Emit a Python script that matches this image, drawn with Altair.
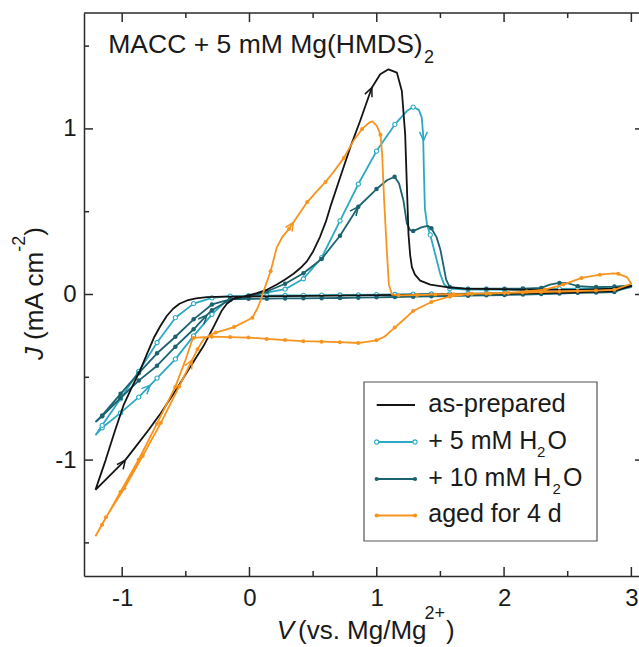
import altair as alt
import pandas as pd

FONT = "Liberation Sans"
TXT = "#1a1a1a"
AXC = "#2a2a2a"

# ---------------- data ----------------
SERIES = ["as-prepared", "+ 5 mM H2O", "+ 10 mM H2O", "aged for 4 d"]
COLORS = ["#141414", "#2ba9c4", "#1b6370", "#f7941e"]

# (V, J) - as prepared, no markers (sweep order)
BLACK = [
    (-1.21, -1.18), (-1.10, -1.095), (-0.976, -1.0), (-0.88, -0.905), (-0.79, -0.815),
    (-0.70, -0.72), (-0.58, -0.58), (-0.466, -0.438), (-0.36, -0.31), (-0.283, -0.197),
    (-0.22, -0.10), (-0.178, -0.056), (-0.126, -0.026), (-0.05, -0.013), (0.058, 0.008),
    (0.14, 0.03), (0.215, 0.06), (0.28, 0.09), (0.346, 0.125), (0.40, 0.16), (0.451, 0.20),
    (0.50, 0.26), (0.555, 0.35), (0.60, 0.44), (0.634, 0.526), (0.712, 0.707), (0.791, 0.887),
    (0.869, 1.048), (0.961, 1.249), (1.027, 1.33), (1.092, 1.36), (1.158, 1.34), (1.197, 1.229),
    (1.223, 0.968), (1.236, 0.667), (1.249, 0.366), (1.262, 0.24), (1.276, 0.165), (1.30, 0.12),
    (1.341, 0.084), (1.42, 0.06), (1.55, 0.045), (1.68, 0.036), (2.07, 0.03), (2.6, 0.028),
    (2.85, 0.036), (3.0, 0.05),
    (2.85, 0.02), (2.5, 0.012), (2.0, 0.005), (1.5, 0.0), (1.0, -0.004), (0.5, -0.008),
    (0.0, -0.012), (-0.2, -0.013), (-0.335, -0.016), (-0.42, -0.024), (-0.49, -0.036),
    (-0.55, -0.056), (-0.60, -0.086), (-0.65, -0.13), (-0.70, -0.19), (-0.75, -0.26),
    (-0.80, -0.35), (-0.86, -0.46), (-0.93, -0.57), (-0.99, -0.67), (-1.06, -0.83),
    (-1.13, -1.0), (-1.21, -1.18),
]

# (V, J, marker) - + 5 mM H2O, open circles
H2O5 = [
    (-1.21, -0.85, 0), (-1.157, -0.805, 1), (-1.013, -0.715, 1), (-0.870, -0.62, 1),
    (-0.726, -0.505, 1), (-0.582, -0.39, 1), (-0.439, -0.25, 1), (-0.295, -0.12, 1),
    (-0.20, -0.05, 0), (-0.151, -0.03, 1), (-0.007, -0.008, 1), (0.136, 0.012, 1),
    (0.280, 0.032, 1), (0.424, 0.095, 1), (0.567, 0.223, 1), (0.711, 0.445, 1),
    (0.855, 0.667, 1), (0.998, 0.866, 1), (1.142, 1.027, 1), (1.236, 1.108, 0),
    (1.286, 1.132, 1), (1.33, 1.115, 0), (1.353, 1.07, 0), (1.364, 0.97, 0), (1.370, 0.75, 0),
    (1.378, 0.52, 0), (1.395, 0.42, 0), (1.42, 0.36, 1), (1.46, 0.24, 0), (1.50, 0.12, 0),
    (1.53, 0.06, 0), (1.573, 0.035, 1), (1.717, 0.03, 1), (1.861, 0.03, 1), (2.004, 0.03, 1),
    (2.148, 0.03, 1), (2.292, 0.032, 1), (2.435, 0.034, 1), (2.579, 0.036, 1),
    (2.723, 0.038, 1), (2.866, 0.04, 1), (3.0, 0.045, 0),
    (2.866, 0.02, 1), (2.723, 0.018, 1), (2.579, 0.016, 1), (2.435, 0.014, 1),
    (2.292, 0.012, 1), (2.148, 0.01, 1), (2.004, 0.008, 1), (1.861, 0.006, 1),
    (1.717, 0.005, 1), (1.573, 0.004, 1), (1.429, 0.003, 1), (1.286, 0.002, 1),
    (1.142, 0.0, 1), (0.998, -0.001, 1), (0.855, -0.002, 1), (0.711, -0.003, 1),
    (0.567, -0.004, 1), (0.424, -0.005, 1), (0.280, -0.006, 1), (0.136, -0.007, 1),
    (-0.007, -0.008, 1), (-0.151, -0.01, 1), (-0.295, -0.02, 1), (-0.439, -0.055, 1),
    (-0.582, -0.14, 1), (-0.726, -0.29, 1), (-0.870, -0.465, 1), (-1.013, -0.63, 1),
    (-1.157, -0.79, 1), (-1.21, -0.85, 0),
]

# (V, J, marker) - + 10 mM H2O, filled circles
H2O10 = [
    (-1.21, -0.77, 0), (-1.157, -0.735, 1), (-1.013, -0.625, 1), (-0.870, -0.52, 1),
    (-0.726, -0.43, 1), (-0.582, -0.315, 1), (-0.439, -0.21, 1), (-0.335, -0.125, 0),
    (-0.295, -0.095, 1), (-0.151, -0.03, 1), (-0.007, -0.012, 1), (0.136, 0.018, 1),
    (0.280, 0.065, 1), (0.424, 0.128, 1), (0.567, 0.215, 1), (0.711, 0.355, 1),
    (0.855, 0.53, 1), (0.998, 0.637, 1), (1.08, 0.69, 0), (1.14, 0.711, 1), (1.175, 0.67, 0),
    (1.21, 0.566, 0), (1.236, 0.43, 0), (1.262, 0.388, 0), (1.286, 0.383, 1), (1.35, 0.405, 0),
    (1.40, 0.415, 0), (1.429, 0.40, 1), (1.47, 0.345, 0), (1.50, 0.27, 0), (1.525, 0.17, 0),
    (1.545, 0.09, 0), (1.573, 0.045, 1), (1.717, 0.035, 1), (1.861, 0.035, 1),
    (2.004, 0.035, 1), (2.148, 0.036, 1), (2.292, 0.04, 1), (2.36, 0.06, 0), (2.435, 0.07, 1),
    (2.50, 0.068, 0), (2.579, 0.05, 1), (2.723, 0.045, 1), (2.866, 0.048, 1), (3.0, 0.055, 0),
    (2.866, 0.015, 1), (2.723, 0.012, 1), (2.579, 0.01, 1), (2.435, 0.006, 1),
    (2.292, 0.003, 1), (2.148, 0.0, 1), (2.004, -0.003, 1), (1.861, -0.005, 1),
    (1.717, -0.007, 1), (1.573, -0.009, 1), (1.429, -0.011, 1), (1.286, -0.013, 1),
    (1.142, -0.015, 1), (0.998, -0.017, 1), (0.855, -0.019, 1), (0.711, -0.021, 1),
    (0.567, -0.022, 1), (0.424, -0.023, 1), (0.280, -0.024, 1), (0.136, -0.025, 1),
    (-0.007, -0.026, 1), (-0.151, -0.03, 1), (-0.295, -0.06, 1), (-0.439, -0.15, 1),
    (-0.582, -0.255, 1), (-0.726, -0.355, 1), (-0.870, -0.475, 1), (-1.013, -0.60, 1),
    (-1.157, -0.73, 1), (-1.21, -0.77, 0),
]

# (V, J, marker) - aged for 4 d, small filled dots
AGED = [
    (-1.21, -1.46, 0), (-1.127, -1.345, 1), (-0.983, -1.17, 1), (-0.839, -0.975, 1),
    (-0.696, -0.775, 1), (-0.552, -0.555, 1), (-0.45, -0.395, 0), (-0.408, -0.33, 1),
    (-0.36, -0.27, 0), (-0.30, -0.24, 0), (-0.265, -0.23, 1), (-0.121, -0.197, 1),
    (0.023, -0.14, 1), (0.065, -0.08, 0), (0.09, -0.03, 0), (0.12, 0.04, 0), (0.166, 0.14, 1),
    (0.215, 0.285, 0), (0.26, 0.35, 0), (0.310, 0.395, 1), (0.372, 0.466, 0), (0.454, 0.558, 1),
    (0.525, 0.62, 0), (0.598, 0.68, 1), (0.66, 0.74, 0), (0.741, 0.825, 1), (0.817, 0.928, 0),
    (0.885, 1.0, 1), (0.94, 1.038, 0), (0.965, 1.045, 0), (0.999, 1.02, 0), (1.029, 0.965, 1),
    (1.042, 0.85, 0), (1.058, 0.566, 0), (1.079, 0.265, 0), (1.095, 0.06, 0), (1.12, 0.0, 0),
    (1.172, -0.005, 1), (1.316, -0.003, 1), (1.460, 0.0, 1), (1.603, 0.002, 1),
    (1.747, 0.004, 1), (1.891, 0.006, 1), (2.034, 0.01, 1), (2.178, 0.018, 1),
    (2.322, 0.03, 1), (2.465, 0.06, 1), (2.609, 0.10, 1), (2.753, 0.12, 1), (2.86, 0.128, 0),
    (2.897, 0.125, 1), (2.965, 0.105, 0), (3.0, 0.065, 0),
    (2.866, 0.028, 1), (2.722, 0.024, 1), (2.578, 0.021, 1), (2.434, 0.018, 1),
    (2.291, 0.015, 1), (2.147, 0.012, 1), (2.003, 0.009, 1), (1.860, 0.006, 1),
    (1.716, 0.003, 1), (1.572, -0.012, 1), (1.429, -0.045, 1), (1.285, -0.10, 1),
    (1.20, -0.16, 0), (1.141, -0.20, 1), (1.06, -0.255, 0), (0.997, -0.277, 1),
    (0.854, -0.293, 1), (0.710, -0.288, 1), (0.566, -0.285, 1), (0.423, -0.282, 1),
    (0.279, -0.275, 1), (0.135, -0.268, 1), (-0.008, -0.26, 1), (-0.152, -0.257, 1),
    (-0.296, -0.255, 1), (-0.439, -0.262, 1), (-0.455, -0.285, 0), (-0.50, -0.39, 0),
    (-0.583, -0.558, 1), (-0.727, -0.78, 1), (-0.871, -0.998, 1), (-1.014, -1.192, 1),
    (-1.158, -1.39, 1), (-1.21, -1.46, 0),
]

# direction arrows: (series index, V, J, screen rotation in degrees)
ARROWS = [
    (0, -0.976, -1.0, 37), (0, 0.961, 1.249, 23),
    (1, -0.78, -0.548, 45), (1, 1.367, 0.93, 180),
    (2, 0.855, 0.53, 38), (2, -0.335, -0.125, 42),
    (3, 0.346, 0.436, 34), (3, -0.45, -0.395, 28),
]

X_MAJOR = [-1, 0, 1, 2, 3]
X_MINOR = [-0.5, 0.5, 1.5, 2.5]
Y_MAJOR = [-1, 0, 1]
Y_MINOR = [-1.5, -0.5, 0.5, 1.5]

# ---------------- chart ----------------
W, H = 555, 563

xs = alt.Scale(domain=[-1.3, 3.06], nice=False, zero=False)
ys = alt.Scale(domain=[-1.7, 1.7], nice=False, zero=False)
xaxis = alt.Axis(values=X_MAJOR, labelExpr="'' + datum.value", ticks=False, tickSize=0,
                 grid=False, domainColor=AXC, domainWidth=1.5, labelFont=FONT,
                 labelFontSize=24, labelColor=TXT, labelPadding=29,
                 labelBaseline="alphabetic", title=None)
yaxis = alt.Axis(values=Y_MAJOR, labelExpr="'' + datum.value", ticks=False, tickSize=0,
                 grid=False, domainColor=AXC, domainWidth=1.5, labelFont=FONT,
                 labelFontSize=24, labelColor=TXT, labelPadding=8, title=None)
X = alt.X("V:Q", scale=xs, axis=xaxis)
Y = alt.Y("J:Q", scale=ys, axis=yaxis)

one = pd.DataFrame({"a": [0]})


def series_df(pts):
    rows = []
    for i, p in enumerate(pts):
        rows.append({"i": i, "V": p[0], "J": p[1], "m": p[2] if len(p) > 2 else 0})
    return pd.DataFrame(rows)


layers = []

# ticks (inward) and frame top
layers.append(alt.Chart(pd.DataFrame({"V": X_MAJOR})).mark_rule(color=AXC, strokeWidth=1.5)
              .encode(x=X, y=alt.value(H), y2=alt.value(H - 9)))
layers.append(alt.Chart(pd.DataFrame({"V": X_MAJOR})).mark_rule(color=AXC, strokeWidth=1.5)
              .encode(x=X, y=alt.value(0), y2=alt.value(9)))
layers.append(alt.Chart(pd.DataFrame({"V": X_MINOR})).mark_rule(color=AXC, strokeWidth=1.5)
              .encode(x=X, y=alt.value(H), y2=alt.value(H - 5)))
layers.append(alt.Chart(pd.DataFrame({"V": X_MINOR})).mark_rule(color=AXC, strokeWidth=1.5)
              .encode(x=X, y=alt.value(0), y2=alt.value(5)))
layers.append(alt.Chart(pd.DataFrame({"J": Y_MAJOR})).mark_rule(color=AXC, strokeWidth=1.5)
              .encode(y=Y, x=alt.value(0), x2=alt.value(9)))
layers.append(alt.Chart(pd.DataFrame({"J": Y_MAJOR})).mark_rule(color=AXC, strokeWidth=1.5)
              .encode(y=Y, x=alt.value(W - 4), x2=alt.value(W)))
layers.append(alt.Chart(pd.DataFrame({"J": Y_MINOR})).mark_rule(color=AXC, strokeWidth=1.5)
              .encode(y=Y, x=alt.value(0), x2=alt.value(5)))
layers.append(alt.Chart(one).mark_rule(color=AXC, strokeWidth=1.5)
              .encode(x=alt.value(0), x2=alt.value(W), y=alt.value(0)))

# curves
curve_sets = [(1, H2O5), (2, H2O10), (0, BLACK), (3, AGED)]
for k, pts in curve_sets:
    df = series_df(pts)
    col = COLORS[k]
    layers.append(alt.Chart(df).mark_line(color=col, strokeWidth=1.8, strokeJoin="round")
                  .encode(x=X, y=Y, order="i:Q"))
    if k == 1:
        layers.append(alt.Chart(df[df.m == 1]).mark_point(shape="circle", filled=True, fill="white",
                                                         stroke=col, strokeWidth=1.1, size=18, opacity=1)
                      .encode(x=X, y=Y))
    elif k == 2:
        layers.append(alt.Chart(df[df.m == 1]).mark_point(shape="circle", filled=True, color=col,
                                                         size=20, opacity=1)
                      .encode(x=X, y=Y))
    elif k == 3:
        layers.append(alt.Chart(df[df.m == 1]).mark_point(shape="circle", filled=True, color=col,
                                                         size=16, opacity=1)
                      .encode(x=X, y=Y))

# arrows
CHEVRON = "M -0.45 1 L 0 0 L 0.45 1"
for k in range(4):
    adf = pd.DataFrame([{"V": a[1], "J": a[2], "ang": a[3]} for a in ARROWS if a[0] == k])
    layers.append(alt.Chart(adf).mark_point(shape=CHEVRON, filled=False, stroke=COLORS[k],
                                            strokeWidth=1.5, size=300, opacity=1)
                  .encode(x=X, y=Y, angle=alt.Angle("ang:Q", scale=None)))


def text_layer(text, x, y, size=25, style="normal", angle=0):
    return (alt.Chart(one)
            .mark_text(text=text, font=FONT, fontSize=size, fontStyle=style, angle=angle,
                       align="left", baseline="alphabetic", color=TXT)
            .encode(x=alt.value(x), y=alt.value(y)))


# annotation
layers.append(text_layer("MACC + 5 mM Mg(HMDS)", 24.3, 39.7, size=26.5))
layers.append(text_layer("2", 340, 50, size=18))

# legend box
layers.append(alt.Chart(one).mark_rect(fill="white", stroke="#555555", strokeWidth=1.2)
              .encode(x=alt.value(280), x2=alt.value(513), y=alt.value(369), y2=alt.value(528)))
LEG_BASE = [398.5, 435.5, 472.5, 509.0]
for k in range(4):
    ly = LEG_BASE[k] - 6.5
    col = COLORS[k]
    layers.append(alt.Chart(one).mark_rule(color=col, strokeWidth=1.8)
                  .encode(x=alt.value(292.7), x2=alt.value(331), y=alt.value(ly)))
    if k > 0:
        for px in (292.7, 331):
            if k == 1:
                mk = alt.Chart(one).mark_point(shape="circle", filled=True, fill="white", stroke=col,
                                               strokeWidth=1.1, size=18, opacity=1)
            else:
                mk = alt.Chart(one).mark_point(shape="circle", filled=True, color=col, size=18,
                                               opacity=1)
            layers.append(mk.encode(x=alt.value(px), y=alt.value(ly)))

layers.append(text_layer("as-prepared", 344.3, LEG_BASE[0], size=25.5))
layers.append(text_layer("+ 5 mM H", 344.3, LEG_BASE[1]))
layers.append(text_layer("2", 453, LEG_BASE[1] + 8.4, size=15))
layers.append(text_layer("O", 463.5, LEG_BASE[1]))
layers.append(text_layer("+ 10 mM H", 344.3, LEG_BASE[2]))
layers.append(text_layer("2", 468.5, LEG_BASE[2] + 8.4, size=15))
layers.append(text_layer("O", 479, LEG_BASE[2]))
layers.append(text_layer("aged for 4 d", 344.3, LEG_BASE[3]))

# axis titles (mixed italic / superscripts)
layers.append(text_layer("V", 192.7, 626, size=26, style="italic"))
layers.append(text_layer("(vs. Mg/Mg", 214, 626, size=26))
layers.append(text_layer("2+", 340.5, 606, size=18))
layers.append(text_layer(")", 362, 626, size=26))

layers.append(text_layer("J", -41, 347, size=26, style="italic", angle=270))
layers.append(text_layer("(mA cm", -41, 327, size=26, angle=270))
layers.append(text_layer("-2", -59, 238.7, size=18, angle=270))
layers.append(text_layer(")", -41, 222.7, size=26, angle=270))

chart = (alt.layer(*layers)
         .properties(width=W, height=H, autosize=alt.AutoSizeParams(type="none"),
                     padding={"left": 84, "top": 13, "right": 0, "bottom": 71},
                     background="white")
         .configure_view(stroke="transparent"))

chart.save("out.html", embed_options={"renderer": "svg", "actions": False})
